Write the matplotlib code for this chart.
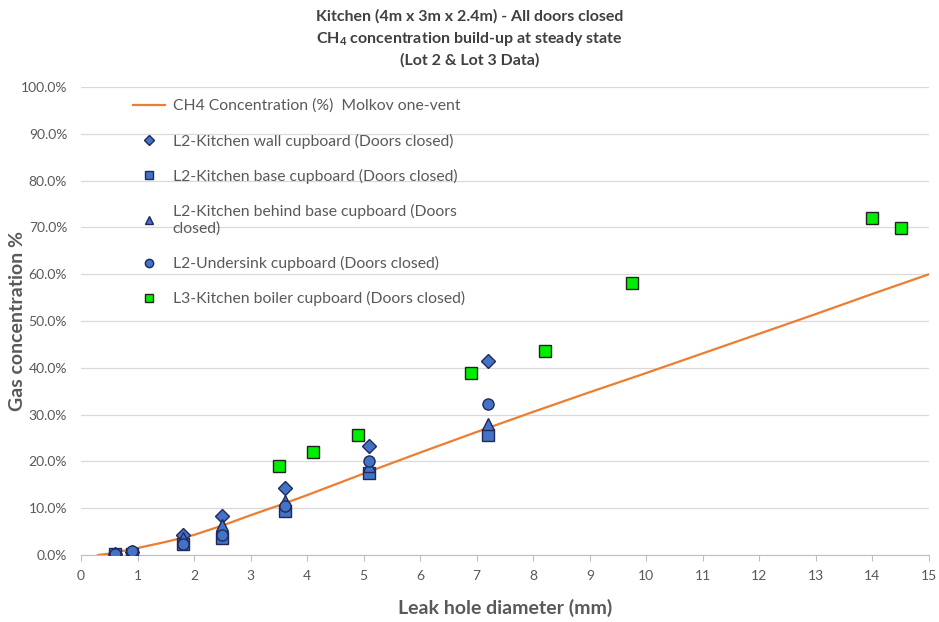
import matplotlib
matplotlib.use("Agg")
import matplotlib.pyplot as plt
from matplotlib.ticker import PercentFormatter, MultipleLocator

plt.rcParams['font.family'] = ['Lato', 'DejaVu Sans']
plt.rcParams['mathtext.default'] = 'regular'

# Molkov one-vent model line (mm, %)
model_x = [0.3, 0.5, 1, 1.5, 2, 2.5, 3, 3.5, 4, 5, 6, 7, 8, 9, 10, 11, 12, 13, 14, 15]
model_y = [0.0, 0.3, 1.5, 2.8, 4.3, 6.3, 8.5, 10.6, 12.8, 17.4, 21.9, 26.3, 30.6,
           34.8, 38.9, 43.1, 47.3, 51.5, 55.8, 60.0]

# Lot 2 measurements
l2_x = [0.6, 0.9, 1.8, 2.5, 3.6, 5.1, 7.2]
wall_y = [0.3, 0.6, 4.3, 8.4, 14.3, 23.3, 41.4]
base_y = [0.2, 0.3, 2.4, 3.7, 9.3, 17.6, 25.6]
behind_y = [0.2, 0.4, 3.6, 6.5, 11.6, 19.0, 27.9]
undersink_y = [0.3, 0.8, 2.3, 4.3, 10.5, 20.0, 32.3]

# Lot 3 measurements
l3_x = [3.5, 4.1, 4.9, 6.9, 8.2, 9.75, 14.0, 14.5]
boiler_y = [19.0, 22.1, 25.6, 38.9, 43.5, 58.2, 72.1, 69.9]

grey = '#595959'
blue = '#4472C4'
navy = '#1F2A5C'

fig = plt.figure(figsize=(9.39, 6.22), dpi=100)
ax = fig.add_axes([0.0863, 0.1077, 0.9030, 0.7523])

ax.plot(model_x, model_y, color='#ED7D31', lw=1.6,
        label='CH4 Concentration (%)  Molkov one-vent', zorder=2)
ax.plot(l2_x, wall_y, 'D', ms=7, color=blue, mec=navy, mew=1.0,
        label='L2-Kitchen wall cupboard (Doors closed)', zorder=3)
ax.plot(l2_x, base_y, 's', ms=8, color=blue, mec=navy, mew=1.0,
        label='L2-Kitchen base cupboard (Doors closed)', zorder=3)
ax.plot(l2_x, behind_y, '^', ms=8, color=blue, mec=navy, mew=1.0,
        label='L2-Kitchen behind base cupboard (Doors\nclosed)', zorder=3)
ax.plot(l2_x, undersink_y, 'o', ms=8, color=blue, mec=navy, mew=1.0,
        label='L2-Undersink cupboard (Doors closed)', zorder=3)
ax.plot(l3_x, boiler_y, 's', ms=8.5, color='#00EE00', mec='#222222', mew=1.0,
        label='L3-Kitchen boiler cupboard (Doors closed)', zorder=3)

ax.set_xlim(0, 15)
ax.set_ylim(0, 100)
ax.xaxis.set_major_locator(MultipleLocator(1))
ax.yaxis.set_major_locator(MultipleLocator(10))
ax.yaxis.set_major_formatter(PercentFormatter(decimals=1))
ax.grid(axis='y', color='#D9D9D9', lw=0.9)
ax.set_axisbelow(True)

for s in ['top', 'right', 'left']:
    ax.spines[s].set_visible(False)
ax.spines['bottom'].set_color('#BFBFBF')
ax.tick_params(axis='both', colors=grey, labelsize=10, length=0)
ax.tick_params(axis='y', pad=10)
ax.tick_params(axis='x', length=4, color='#BFBFBF', direction='out', pad=7)

ax.set_xlabel('Leak hole diameter (mm)', fontsize=14, fontweight='bold', color=grey, labelpad=12)
ax.set_ylabel('Gas concentration %', fontsize=14, fontweight='bold', color=grey)
ax.yaxis.set_label_coords(-0.065, 0.5)

fig.suptitle('Kitchen (4m x 3m x 2.4m) - All doors closed\n'
             '$CH_4$ concentration build-up at steady state\n(Lot 2 & Lot 3 Data)',
             fontsize=11.5, fontweight='bold', color='#404040', y=0.985, linespacing=1.45)

leg = ax.legend(loc='upper left', bbox_to_anchor=(0.045, 1.005), frameon=False,
                fontsize=11.3, labelcolor=grey, labelspacing=1.29, handlelength=2.0,
                handletextpad=0.5, markerscale=0.75)

fig.savefig('out.png', dpi=100)
